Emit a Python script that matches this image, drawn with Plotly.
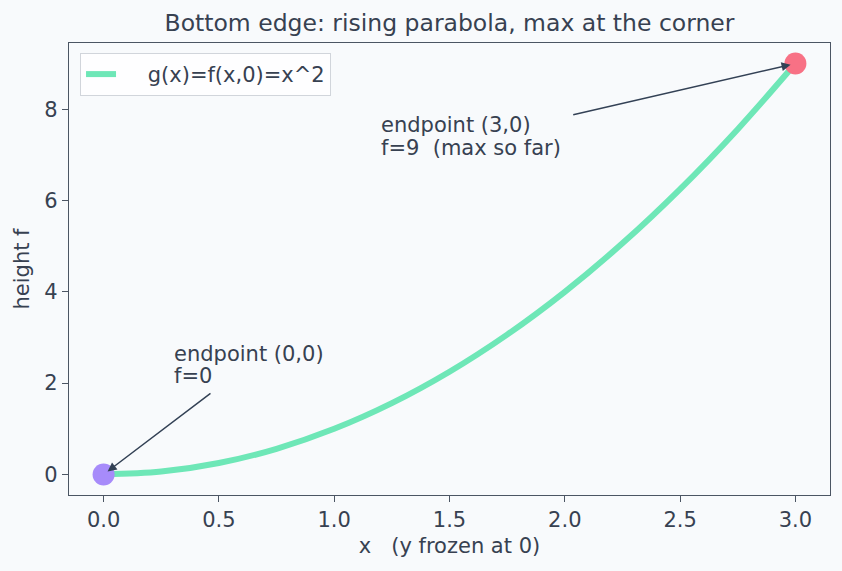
import plotly.graph_objects as go

# curve samples (g(x) = x^2 on the bottom edge)
x_vals = [0.0, 0.25, 0.5, 0.75, 1.0, 1.25, 1.5, 1.75, 2.0, 2.25, 2.5, 2.75, 3.0]
g_vals = [0.0, 0.0625, 0.25, 0.5625, 1.0, 1.5625, 2.25, 3.0625, 4.0, 5.0625, 6.25, 7.5625, 9.0]

start_pt = (0.0, 0.0)
end_pt = (3.0, 9.0)

ann_end_lines = ["endpoint (3,0)", "f=9  (max so far)"]
ann_end_textpos = (1.2, 7.0)
ann_end_tail = (2.03, 7.87)
ann_start_lines = ["endpoint (0,0)", "f=0"]
ann_start_textpos = (0.3, 2.0)
ann_start_tail = (0.47, 1.8)

xticks = [0.0, 0.5, 1.0, 1.5, 2.0, 2.5, 3.0]
yticks = [0, 2, 4, 6, 8]

BG = "#f8fafc"
TXT = "#374151"
SPINE = "#4b5563"
FONT = "DejaVu Sans"
FS = 21

fig = go.Figure()
fig.add_trace(go.Scatter(
    x=x_vals, y=g_vals, mode="lines", name="\u00a0\u00a0\u00a0\u00a0g(x)=f(x,0)=x^2",
    line=dict(color="#6ee7b7", width=6, shape="spline"),
))
fig.add_trace(go.Scatter(
    x=[start_pt[0]], y=[start_pt[1]], mode="markers", showlegend=False,
    marker=dict(color="#a78bfa", size=22, line=dict(width=0)),
))
fig.add_trace(go.Scatter(
    x=[end_pt[0]], y=[end_pt[1]], mode="markers", showlegend=False,
    marker=dict(color="#f87185", size=22, line=dict(width=0)),
))

annotations = []
for lines, tpos, tail, head in [
    (ann_end_lines, ann_end_textpos, ann_end_tail, end_pt),
    (ann_start_lines, ann_start_textpos, ann_start_tail, start_pt),
]:
    n = len(lines)
    for i, line in enumerate(lines):
        annotations.append(dict(
            x=tpos[0], y=tpos[1], xref="x", yref="y", text=line,
            showarrow=False, xanchor="left", yanchor="bottom", align="left",
            xshift=-1, yshift=-7 + (n - 1 - i) * 22.5,
            font=dict(family=FONT, size=FS, color=TXT),
        ))
    annotations.append(dict(
        x=head[0], y=head[1], ax=tail[0], ay=tail[1], xref="x", yref="y",
        axref="x", ayref="y", text="", showarrow=True, arrowhead=2,
        arrowsize=1.2, arrowwidth=1.5, arrowcolor="#334155", standoff=5,
    ))

fig.update_layout(
    width=842, height=571,
    paper_bgcolor=BG, plot_bgcolor=BG,
    margin=dict(l=69, r=12, t=43, b=76),
    font=dict(family=FONT, size=FS, color=TXT),
    title=dict(text="Bottom edge: rising parabola, max at the corner",
               x=0.5, xref="paper", xanchor="center",
               y=1 - 23 / 571, yref="container", yanchor="middle",
               font=dict(size=23.5, color=TXT)),
    showlegend=True,
    legend=dict(x=0.0145, y=0.978, xanchor="left", yanchor="top",
                bgcolor="rgba(255,255,255,0.8)", bordercolor="#d1d5db",
                borderwidth=1, font=dict(size=FS, color=TXT)),
    annotations=annotations,
)
fig.update_xaxes(
    range=[-0.15, 3.15], tickvals=xticks, ticktext=[f"{v:.1f}" for v in xticks],
    showgrid=False, zeroline=False, showline=True, linecolor=SPINE, linewidth=1.3,
    mirror=True, ticks="outside", ticklen=6, tickcolor=SPINE, automargin=False,
    tickfont=dict(size=FS),
    title=dict(text="x   (y frozen at 0)", font=dict(size=FS), standoff=6),
)
fig.update_yaxes(
    range=[-0.45, 9.45], tickvals=yticks,
    showgrid=False, zeroline=False, showline=True, linecolor=SPINE, linewidth=1.3,
    mirror=True, ticks="outside", ticklen=6, tickcolor=SPINE, automargin=False,
    tickfont=dict(size=FS),
    title=dict(text="height f", font=dict(size=FS), standoff=8),
)

fig.write_html("out.html")
